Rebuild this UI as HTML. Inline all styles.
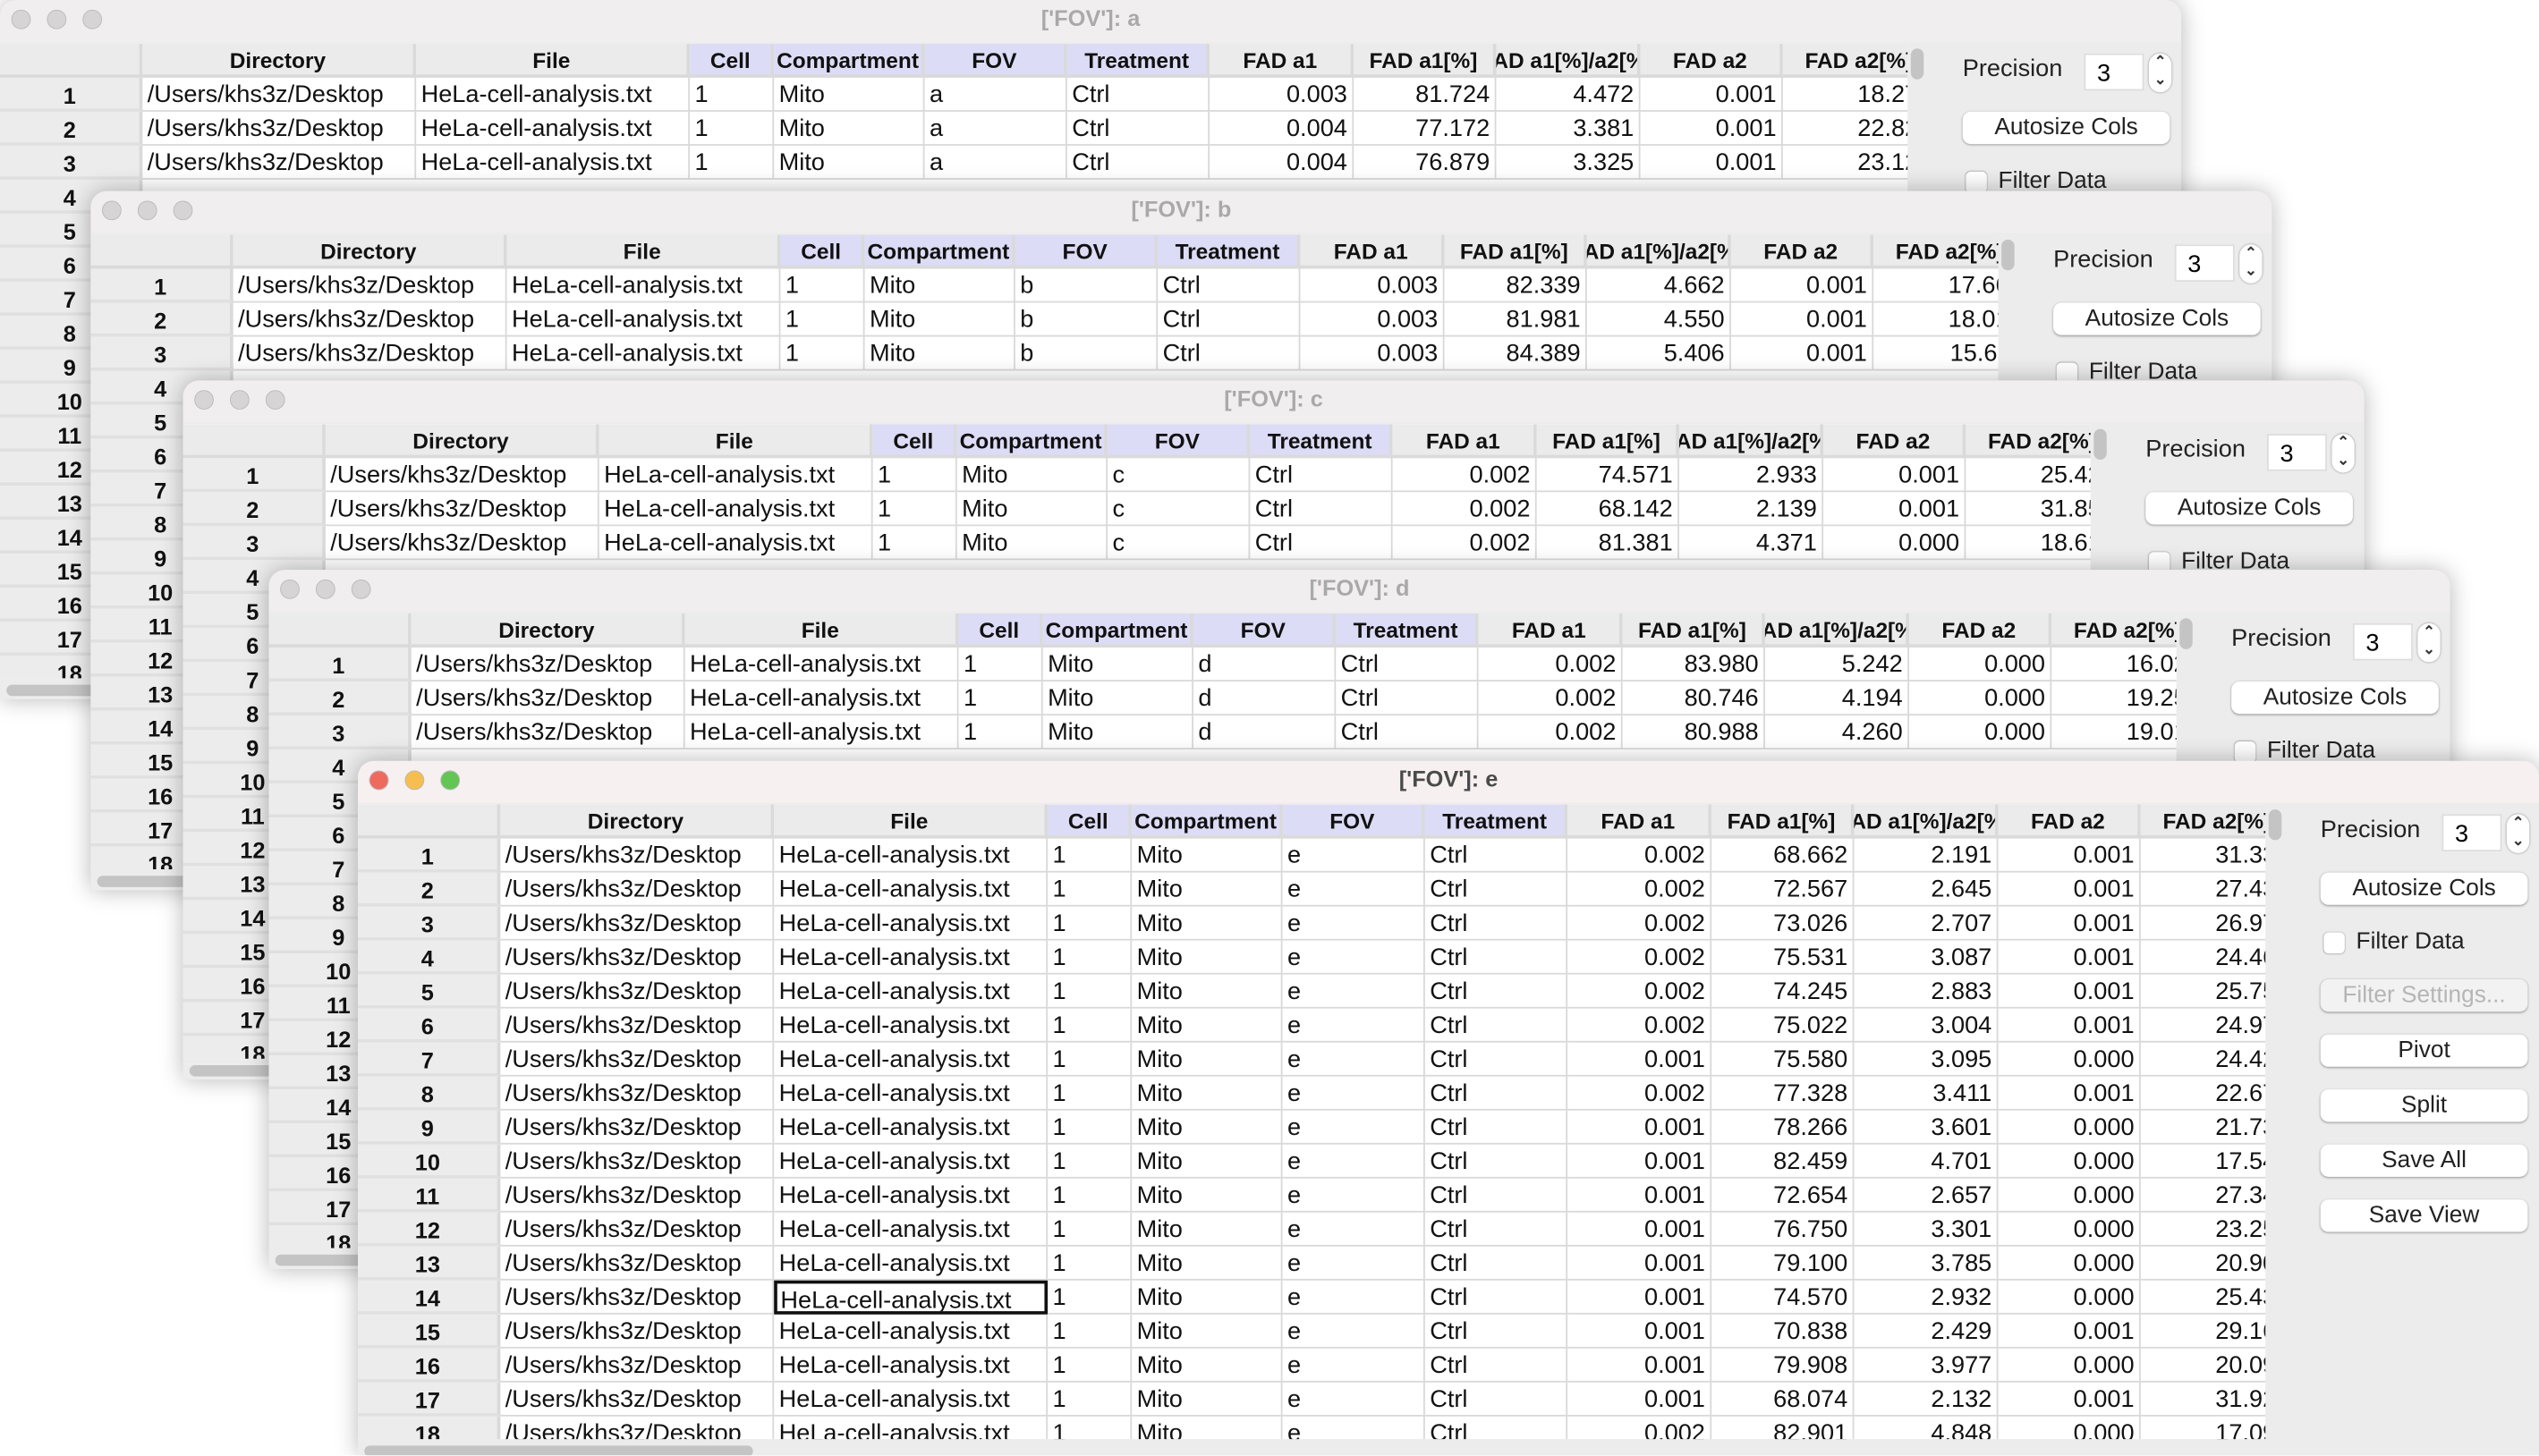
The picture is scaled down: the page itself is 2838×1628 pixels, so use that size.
<!DOCTYPE html>
<html><head><meta charset="utf-8">
<style>
html,body{margin:0;padding:0;background:#fff;}
body{width:2838px;height:1628px;overflow:hidden;position:relative;font-family:"Liberation Sans",Arial,sans-serif;}
#stage{position:absolute;left:0;top:0;width:1568px;height:899px;transform:scale(1.81);transform-origin:0 0;overflow:hidden;background:#fff;}
.win{position:absolute;width:1347px;height:432px;background:#ececec;border-radius:10px 10px 0 0;box-shadow:0 0 14px rgba(0,0,0,0.28);overflow:hidden;}
.tbar{position:absolute;left:0;top:0;right:0;height:26px;background:#f0eeee;}
.win.active .tbar{background:#f6f0f1;}
.title{position:absolute;left:0;right:0;top:3px;text-align:center;font-weight:bold;font-size:14px;color:#a9a9a9;}
.win.active .title{color:#4a4a4a;}
.light{position:absolute;top:6px;width:12px;height:12px;border-radius:50%;background:#d6d4d5;box-shadow:inset 0 0 0 0.5px #bbb;}
.view{position:absolute;left:0;top:27px;width:1178px;height:392px;background:#fff;overflow:hidden;}
.cell{position:absolute;box-sizing:border-box;height:21px;font-size:15px;line-height:22px;color:#111;white-space:nowrap;overflow:hidden;border-right:1px solid #d9d9d9;border-bottom:1px solid #d9d9d9;padding:0 3px;}
.hd{background:#ebebeb;font-weight:bold;font-size:13.5px;line-height:21px;display:flex;justify-content:center;border-right:2px solid #dadada;border-bottom:2px solid #dadada;}
.hd span{flex-shrink:0;}
.hd.lav{background:#dcdcf6;}
.idx{background:#ececec;font-weight:bold;font-size:14px;text-align:center;border-right:2px solid #dadada;border-bottom:2px solid #e0e0e0;}
.num{text-align:right;}
.vs{position:absolute;left:1180px;top:30px;width:8px;height:19px;border-radius:4px;background:#c4c4c4;}
.panel{position:absolute;left:1190px;top:27px;width:157px;height:405px;background:#ececec;}
.plabel{position:absolute;left:22px;top:7px;font-size:15px;color:#222;}
.pin{position:absolute;left:97px;top:6px;width:37px;height:23px;background:#fff;box-sizing:border-box;border:1px solid #ddd;font-size:15px;line-height:23px;padding-left:7px;}
.spin{position:absolute;left:137px;top:6px;width:14px;height:24px;background:#fff;border-radius:7px;box-shadow:0 0 1.5px #888;font-size:9px;line-height:11px;text-align:center;color:#333;font-weight:bold;}
.btn{position:absolute;left:22px;width:128px;height:20px;background:#fff;border-radius:5px;box-shadow:0 0.5px 1.5px rgba(0,0,0,0.35);font-size:14.5px;line-height:20px;text-align:center;color:#222;}
.btn.dis{background:#f2f2f2;color:#b5b5b5;}
.chk{position:absolute;left:24px;width:13px;height:13px;background:#fff;border-radius:3px;box-shadow:0 0 1px #888;}
.chkl{position:absolute;left:44px;font-size:14.5px;color:#222;}
.hs{position:absolute;left:4px;top:423px;width:240px;height:7px;border-radius:4px;background:#c4c4c4;}
</style></head><body>
<div id="stage"></div>
<script>
const columns=["Directory","File","Cell","Compartment","FOV","Treatment","FAD a1","FAD a1[%]","FAD a1[%]/a2[%]","FAD a2","FAD a2[%]"];
const colW=[88,169,169,52,93,88,88,89,88,89,88,96];
const lavCols=[2,3,4,5];
const fovNames=["a","b","c","d","e"];
const winLeft=[0,56,113,166,221];
const winTop=[0,118,235,352,470];
const fadA1={
 a:["0.003","0.004","0.004"],b:["0.003","0.003","0.003"],c:["0.002","0.002","0.002"],d:["0.002","0.002","0.002"],
 e:["0.002","0.002","0.002","0.002","0.002","0.002","0.001","0.002","0.001","0.001","0.001","0.001","0.001","0.001","0.001","0.001","0.001","0.002"]};
const fadA1Pct={
 a:["81.724","77.172","76.879"],b:["82.339","81.981","84.389"],c:["74.571","68.142","81.381"],d:["83.980","80.746","80.988"],
 e:["68.662","72.567","73.026","75.531","74.245","75.022","75.580","77.328","78.266","82.459","72.654","76.750","79.100","74.570","70.838","79.908","68.074","82.901"]};
const ratio={
 a:["4.472","3.381","3.325"],b:["4.662","4.550","5.406"],c:["2.933","2.139","4.371"],d:["5.242","4.194","4.260"],
 e:["2.191","2.645","2.707","3.087","2.883","3.004","3.095","3.411","3.601","4.701","2.657","3.301","3.785","2.932","2.429","3.977","2.132","4.848"]};
const fadA2={
 a:["0.001","0.001","0.001"],b:["0.001","0.001","0.001"],c:["0.001","0.001","0.000"],d:["0.000","0.000","0.000"],
 e:["0.001","0.001","0.001","0.001","0.001","0.001","0.000","0.001","0.000","0.000","0.000","0.000","0.000","0.000","0.001","0.000","0.001","0.000"]};
const fadA2Pct={
 a:["18.276","22.828","23.121"],b:["17.661","18.019","15.611"],c:["25.429","31.858","18.619"],d:["16.020","19.254","19.012"],
 e:["31.338","27.433","26.974","24.469","25.755","24.978","24.420","22.672","21.734","17.541","27.346","23.250","20.900","25.430","29.162","20.092","31.926","17.099"]};

const stage=document.getElementById('stage');
function mk(parent,cls,txt){const d=document.createElement('div');if(cls)d.className=cls;if(txt!==undefined)d.textContent=txt;parent.appendChild(d);return d;}

fovNames.forEach((f,wi)=>{
  const w=mk(stage,'win'+(wi===4?' active':''));
  
  
  w.style.left=winLeft[wi]+'px';w.style.top=winTop[wi]+'px';w.style.zIndex=wi+1;
  if(wi===4){w.style.height='429px';}
  const tb=mk(w,'tbar');
  
  
  const cols=wi===4?['#ee6a5f','#f5be4f','#62c554']:['#d6d4d5','#d6d4d5','#d6d4d5'];
  cols.forEach((c,i)=>{const l=mk(tb,'light');l.style.left=(7+i*22)+'px';l.style.background=c;
    
    });
  const t=mk(tb,'title',"['FOV']: "+f);
  
  
  const v=mk(w,'view');
  
  
  let x=0;
  const hi=mk(v,'cell hd','');hi.style.left='0px';hi.style.top='0px';hi.style.width=colW[0]+'px';
  
  
  x=colW[0];
  columns.forEach((c,ci)=>{
    const h=mk(v,'cell hd'+(lavCols.includes(ci)?' lav':''));
    const s=document.createElement('span');s.textContent=c;h.appendChild(s);
    h.style.left=x+'px';h.style.top='0px';h.style.width=colW[ci+1]+'px';
    
    
    x+=colW[ci+1];
  });
  const nRows=19;
  const nData=fadA1[f].length;
  for(let r=0;r<nRows;r++){
    const y=21+r*21;
    const ic=mk(v,'cell idx',String(r+1));ic.style.left='0px';ic.style.top=y+'px';ic.style.width=colW[0]+'px';
    
    
    if(r>=nData)continue;
    const vals=["/Users/khs3z/Desktop","HeLa-cell-analysis.txt","1","Mito",f,"Ctrl",fadA1[f][r],fadA1Pct[f][r],ratio[f][r],fadA2[f][r],fadA2Pct[f][r]];
    let cx=colW[0];
    vals.forEach((val,ci)=>{
      const c=mk(v,'cell'+(ci>=6?' num':''),val);
      c.style.left=cx+'px';c.style.top=y+'px';c.style.width=colW[ci+1]+'px';
      if(wi===4&&r===13&&ci===1){c.style.border='2px solid #111';c.style.paddingLeft='2px';}
      
      
      cx+=colW[ci+1];
    });
  }
  const vs=mk(w,'vs');
  
  
  const hs=mk(w,'hs');
  
  
  const p=mk(w,'panel');
  
  
  const pl=mk(p,'plabel','Precision');
  
  
  const pin=mk(p,'pin','3');
  
  
  const sp=mk(p,'spin');sp.innerHTML='&#8963;<br>&#8964;';
  
  
  const b1=mk(p,'btn','Autosize Cols');b1.style.top='42px';
  
  
  const ck=mk(p,'chk');ck.style.top='79px';
  
  
  const ckl=mk(p,'chkl','Filter Data');ckl.style.top='77px';
  
  
  const btns=[["Filter Settings...",108,'filter-settings-button',true],["Pivot",142,'pivot-button'],["Split",176,'split-button'],["Save All",210,'save-all-button'],["Save View",244,'save-view-button']];
  btns.forEach(bd=>{const b=mk(p,'btn'+(bd[3]?' dis':''),bd[0]);b.style.top=bd[1]+'px';
    
    });
});
</script>
</body></html>
